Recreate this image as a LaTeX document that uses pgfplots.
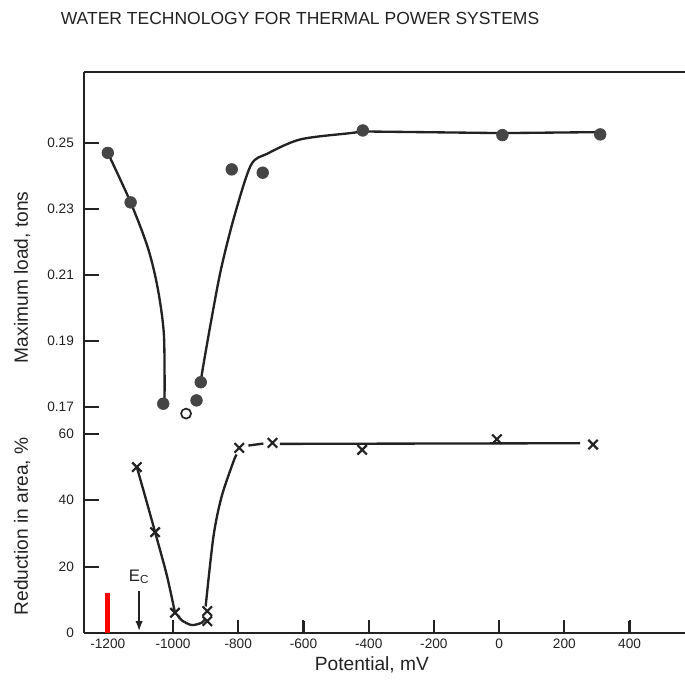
\documentclass[border=0pt]{standalone}
\usepackage{pgfplots}
\pgfplotsset{compat=1.18}
\usetikzlibrary{arrows.meta}
\usepackage{fontspec}
\setmainfont{Liberation Sans}
\definecolor{ink}{HTML}{222222}
\definecolor{dot}{HTML}{454545}
\begin{document}
\begin{tikzpicture}
\useasboundingbox (0pt,0pt) rectangle (411pt,411pt);
\pgfplotsset{
  every axis/.append style={
    scale only axis, width=360.6pt, clip=false,
    xmin=-1273, xmax=570,
    axis line style={line width=1.1pt, color=ink},
    ticklabel style={font=\fontsize{8.2}{9}\selectfont, text=ink},
    yticklabel style={xshift=-2.5pt},
    label style={font=\fontsize{11.5}{13}\selectfont, text=ink},
    /pgf/number format/assume math mode=true,
    /pgf/number format/1000 sep={},
    tick align=inside, major tick length=8pt,
    tick style={draw=ink, line width=1.2pt},
  },
  curve/.style={line width=1.4pt, color=ink, no marks},
}
% bottom panel: reduction in area
\begin{axis}[at={(50.4pt,31.2pt)}, anchor=south west, height=127.8pt,
  ymin=0, ymax=64.2,
  axis x line*=bottom, axis y line*=left,
  xtick={-1200,-1000,-800,-600,-400,-200,0,200,400},
  ytick={0,20,40,60},
  xlabel={Potential, mV}, ylabel={Reduction in area, \%},
  xlabel style={at={(axis description cs:0.479,-0.15)}, anchor=center},
  ylabel style={at={(axis description cs:-0.103,0.5)}, anchor=center},
]
\addplot[curve, smooth, tension=0.5] coordinates {(-1111,50) (-1081,39.6) (-1055,30.4) (-1019,17.4) (-994,6.1)};
\addplot[curve, smooth, tension=0.5] coordinates {(-985,5.2) (-973,3.8) (-943,2.4) (-912,3.1) (-900,4.4)};
\addplot[curve, smooth, tension=0.5] coordinates {(-900,8) (-876,29.1) (-851,41.1) (-815,51.6) (-805,53.8)};
\addplot[curve] coordinates {(-769,56.5) (-723,57.1)};
\addplot[curve] coordinates {(-672,57) (248,57.2)};
\addplot[only marks, mark=x, mark size=4pt, line width=1.3pt, color=ink] coordinates {(-1111,50) (-1055,30.4) (-994,6.1) (-895,6.6) (-895,3.6) (-797,55.8) (-695,57.3) (-420,55.2) (-7,58.4) (288,56.8)};
\draw[-{Latex[length=6pt,width=4.5pt]}, line width=1pt, color=ink] (axis cs:-1104,12.6) -- (axis cs:-1104,0.6);
\node[font=\fontsize{10}{11}\selectfont, text=ink] at (axis cs:-1104,17) {E\textsubscript{C}};
% inward ticks drawn as short strokes
\draw[red, line width=3pt] (axis cs:-1200,0) -- (axis cs:-1200,12);
\draw[ink, line width=1.3pt] (axis cs:-1000,0) -- (axis cs:-1000,3.6);
\draw[ink, line width=1.3pt] (axis cs:-800,0) -- (axis cs:-800,3.6);
\draw[ink, line width=1.3pt] (axis cs:-600,0) -- (axis cs:-600,3.6);
\draw[ink, line width=1.3pt] (axis cs:-400,0) -- (axis cs:-400,3.6);
\draw[ink, line width=1.3pt] (axis cs:-200,0) -- (axis cs:-200,3.6);
\draw[ink, line width=1.3pt] (axis cs:0,0) -- (axis cs:0,3.6);
\draw[ink, line width=1.3pt] (axis cs:200,0) -- (axis cs:200,3.6);
\draw[ink, line width=1.3pt] (axis cs:400,0) -- (axis cs:400,3.6);
\draw[ink, line width=1.3pt] (axis cs:-1273,20) -- (axis cs:-1227,20);
\draw[ink, line width=1.3pt] (axis cs:-1273,40) -- (axis cs:-1227,40);
\draw[ink, line width=1.3pt] (axis cs:-1273,60) -- (axis cs:-1227,60);
\end{axis}
% top panel: maximum load
\begin{axis}[at={(50.4pt,159pt)}, anchor=south west, height=208.8pt,
  ymin=0.16606, ymax=0.27152,
  axis x line*=top, axis y line*=left,
  xtick=\empty,
  ytick={0.17,0.19,0.21,0.23,0.25},
  yticklabel style={/pgf/number format/.cd, fixed, fixed zerofill, precision=2},
  ylabel={Maximum load, tons},
  ylabel style={at={(axis description cs:-0.103,0.41)}, anchor=center},
]
\addplot[curve, smooth, tension=0.5] coordinates {(-1200,0.247) (-1130,0.232) (-1077,0.2182) (-1047,0.2060) (-1028,0.1919) (-1026,0.172)};
\addplot[curve, smooth, tension=0.5] coordinates {(-915,0.1775) (-909,0.1815) (-884,0.1956) (-853,0.2117) (-812,0.2278) (-761,0.2433) (-710,0.2468) (-609,0.2511) (-456,0.2530) (-418,0.2535)};
\addplot[curve] coordinates {(-418,0.2535) (10,0.2530) (310,0.2533)};
\addplot[only marks, mark=*, mark size=3.5pt, color=dot, fill=dot] coordinates {(-1200,0.247) (-1130,0.232) (-1030,0.171) (-928,0.172) (-915,0.1775) (-820,0.242) (-725,0.241) (-418,0.2538) (10,0.2524) (310,0.2526)};
\addplot[only marks, mark=o, mark size=3pt, line width=1pt, color=ink, fill=white] coordinates {(-960,0.168)};
\draw[ink, line width=1.3pt] (axis cs:-1273,0.17) -- (axis cs:-1227,0.17);
\draw[ink, line width=1.3pt] (axis cs:-1273,0.19) -- (axis cs:-1227,0.19);
\draw[ink, line width=1.3pt] (axis cs:-1273,0.21) -- (axis cs:-1227,0.21);
\draw[ink, line width=1.3pt] (axis cs:-1273,0.23) -- (axis cs:-1227,0.23);
\draw[ink, line width=1.3pt] (axis cs:-1273,0.25) -- (axis cs:-1227,0.25);
\end{axis}
\node[font=\fontsize{10.5}{12}\selectfont, text=ink] at (180pt,400.2pt) {WATER TECHNOLOGY FOR THERMAL POWER SYSTEMS};
\end{tikzpicture}
\end{document}
